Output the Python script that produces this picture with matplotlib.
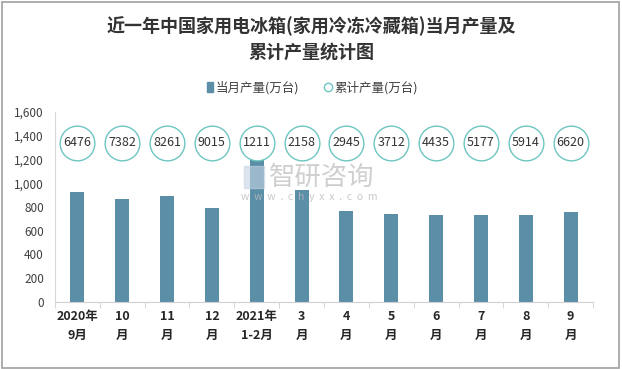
import numpy as np
import matplotlib
matplotlib.use("Agg")
import matplotlib.pyplot as plt
from matplotlib.patches import Rectangle

plt.rcParams['font.family'] = ['Noto Sans CJK SC', 'DejaVu Sans']

months = ["2020年\n9月", "10\n月", "11\n月", "12\n月", "2021年\n1-2月", "3\n月",
          "4\n月", "5\n月", "6\n月", "7\n月", "8\n月", "9\n月"]
monthly = [927, 867, 893, 792, 1211, 943, 770, 745, 735, 735, 735, 760]
cumulative = [6476, 7382, 8261, 9015, 1211, 2158, 2945, 3712, 4435, 5177, 5914, 6620]
circle_level = 1340

bar_color = "#5B8FA8"
ring_color = "#6DC5C1"

fig = plt.figure(figsize=(6.22, 3.69), dpi=100)
fig.patches.append(Rectangle((0.003, 0.003), 0.992, 0.992, transform=fig.transFigure,
                             fill=False, edgecolor="#A0A0A0", linewidth=1.2))
ax = fig.add_axes([0.0884, 0.1816, 0.865, 0.515])

x = np.arange(len(months))
ax.bar(x, monthly, width=0.31, color=bar_color, zorder=2)
ax.plot(x, [circle_level] * len(x), linestyle="none", marker="o", markersize=25,
        markerfacecolor="white", markeredgecolor=ring_color, markeredgewidth=1.0, zorder=3)
for xi, c in zip(x, cumulative):
    ax.text(xi, circle_level, str(c), ha="center", va="center", fontsize=9,
            color="#333333", zorder=4)

ax.set_xlim(-0.5, len(x) - 0.5)
ax.set_ylim(0, 1600)
ax.set_yticks(np.arange(0, 1601, 200))
ax.set_yticklabels([f"{v:,}" for v in range(0, 1601, 200)], fontsize=8.5, color="#404040")
ax.tick_params(axis="y", length=0, pad=8)

ax.set_xticks(x)
ax.set_xticklabels(months, fontsize=9, fontweight="bold", color="#262626", linespacing=1.6)
ax.set_xticks(np.arange(-0.5, len(x), 1), minor=True)
ax.tick_params(axis="x", which="major", length=0, pad=6)
ax.tick_params(axis="x", which="minor", length=4, color="#D0D0D0")

for s in ["top", "right"]:
    ax.spines[s].set_visible(False)
ax.spines["left"].set_color("#D9D9D9")
ax.spines["bottom"].set_color("#D0D0D0")

# watermark
fig.patches.append(Rectangle((0.392, 0.49), 0.033, 0.06, transform=fig.transFigure,
                             color="#C5D3E3", alpha=0.6, zorder=10))
fig.text(0.432, 0.52, "智研咨询", fontsize=19, color="#BBBBBB", alpha=0.7,
         ha="left", va="center", zorder=10)
fig.text(0.388, 0.466, "w  w  w  .  c  h  y  x  x  .  c  o  m", fontsize=7.5,
         color="#BBBBBB", alpha=0.8, ha="left", va="center", zorder=10)

fig.text(0.5, 0.93, "近一年中国家用电冰箱(家用冷冻冷藏箱)当月产量及",
         ha="center", va="center", fontsize=13, fontweight="bold", color="#333333")
fig.text(0.5, 0.858, "累计产量统计图",
         ha="center", va="center", fontsize=13, fontweight="bold", color="#333333")

# legend
fig.patches.append(Rectangle((0.333, 0.752), 0.0095, 0.025, transform=fig.transFigure,
                             color=bar_color))
fig.text(0.347, 0.763, "当月产量(万台)", fontsize=9, color="#404040", va="center")
fig.lines.append(plt.Line2D([0.528], [0.763], transform=fig.transFigure, marker="o",
                            markersize=6, markerfacecolor="white",
                            markeredgecolor=ring_color, linestyle="none"))
fig.text(0.537, 0.763, "累计产量(万台)", fontsize=9, color="#404040", va="center")

fig.savefig("out.png", dpi=100)
